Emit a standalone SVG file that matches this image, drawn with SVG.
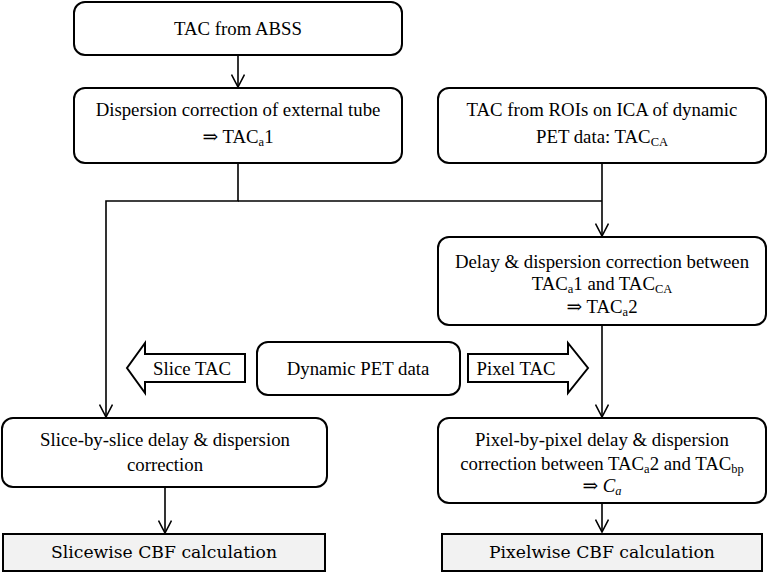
<svg xmlns="http://www.w3.org/2000/svg" width="767" height="572" viewBox="0 0 767 572" font-family="'Liberation Serif', 'DejaVu Serif', serif">
<style>
text{font-family:'Liberation Serif','DejaVu Serif',serif;font-size:18.8px;fill:#000;text-anchor:middle}
.box{fill:#fff;stroke:#000;stroke-width:2}
.gray{fill:#f2f2f2;stroke:#000;stroke-width:2}
.big{font-family:'DejaVu Serif','Liberation Serif',serif;font-size:17.2px}
.sub{font-size:12.5px}
.ln{fill:none;stroke:#000;stroke-width:1.6}
</style>
<defs>
<marker id="arr" viewBox="0 0 14 14" refX="13" refY="7" markerWidth="14" markerHeight="14" markerUnits="userSpaceOnUse" orient="auto">
<path d="M0.5,0.5 L13,7 L0.5,13.5" fill="none" stroke="#000" stroke-width="1.6"/>
</marker>
</defs>
<g id="connectors">
<line class="ln" x1="238" y1="55" x2="238" y2="87" marker-end="url(#arr)"/>
<polyline class="ln" points="238,163 238,201 106,201 106,417" marker-end="url(#arr)"/>
<line class="ln" x1="238" y1="201" x2="602" y2="201"/>
<line class="ln" x1="602" y1="163" x2="602" y2="236" marker-end="url(#arr)"/>
<line class="ln" x1="602" y1="325" x2="602" y2="417" marker-end="url(#arr)"/>
<line class="ln" x1="165" y1="487" x2="165" y2="533" marker-end="url(#arr)"/>
<line class="ln" x1="602" y1="503" x2="602" y2="532" marker-end="url(#arr)"/>
</g>
<g id="n-abss">
<rect class="box" x="74" y="2" width="328" height="53" rx="11"/>
<text x="238" y="35">TAC from ABSS</text>
</g>
<g id="n-disp-ext">
<rect class="box" x="74" y="88" width="328" height="75" rx="11"/>
<text x="238" y="116">Dispersion correction of external tube</text>
<text x="238" y="143">⇒ TAC<tspan class="sub" dy="3">a</tspan><tspan dy="-3">1</tspan></text>
</g>
<g id="n-roi">
<rect class="box" x="438" y="88" width="328" height="75" rx="11"/>
<text x="602" y="116">TAC from ROIs on ICA of dynamic</text>
<text x="602" y="143">PET data: TAC<tspan class="sub" dy="3">CA</tspan></text>
</g>
<g id="n-delay">
<rect class="box" x="438" y="237" width="328" height="88" rx="11"/>
<text x="602" y="268">Delay &amp; dispersion correction between</text>
<text x="602" y="290">TAC<tspan class="sub" dy="3">a</tspan><tspan dy="-3">1 and TAC</tspan><tspan class="sub" dy="3">CA</tspan></text>
<text x="602" y="313">⇒ TAC<tspan class="sub" dy="3">a</tspan><tspan dy="-3">2</tspan></text>
</g>
<g id="n-slice-arrow">
<polygon class="box" points="245,354 145,354 145,343 127,368 145,393 145,382 245,382"/>
<text x="192" y="375">Slice TAC</text>
</g>
<g id="n-dynpet">
<rect class="box" x="257" y="342" width="203" height="53" rx="11"/>
<text x="358" y="375">Dynamic PET data</text>
</g>
<g id="n-pixel-arrow">
<polygon class="box" points="468,354 568,354 568,343 588,368 568,393 568,382 468,382"/>
<text x="516" y="375">Pixel TAC</text>
</g>
<g id="n-slice-corr">
<rect class="box" x="2" y="418" width="325" height="69" rx="11"/>
<text x="165" y="446">Slice-by-slice delay &amp; dispersion</text>
<text x="165" y="471">correction</text>
</g>
<g id="n-pixel-corr">
<rect class="box" x="438" y="418" width="328" height="85" rx="11"/>
<text x="602" y="446">Pixel-by-pixel delay &amp; dispersion</text>
<text x="602" y="470">correction between TAC<tspan class="sub" dy="3">a</tspan><tspan dy="-3">2 and TAC</tspan><tspan class="sub" dy="3">bp</tspan></text>
<text x="602" y="492">⇒ <tspan font-style="italic">C</tspan><tspan class="sub" font-style="italic" dy="3">a</tspan></text>
</g>
<g id="n-slicewise">
<rect class="gray" x="3" y="534" width="322" height="37"/>
<text class="big" x="164" y="558">Slicewise CBF calculation</text>
</g>
<g id="n-pixelwise">
<rect class="gray" x="442" y="534" width="320" height="37"/>
<text class="big" x="602" y="558">Pixelwise CBF calculation</text>
</g>
</svg>
